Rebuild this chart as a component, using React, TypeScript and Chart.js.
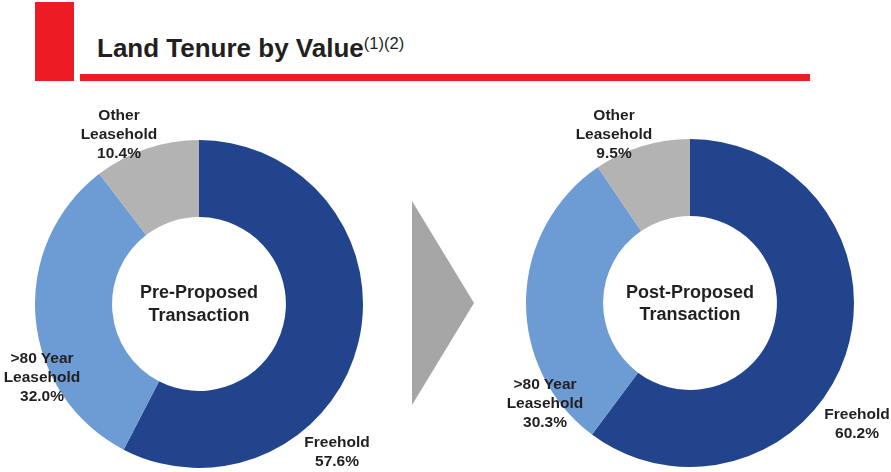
import React, { useEffect, useRef } from "react";
import { Chart, registerables } from "chart.js";

Chart.register(...registerables);

// ---- data ----
const categories = ["Freehold", ">80 Year Leasehold", "Other Leasehold"];
const categoryLines = [["Freehold"], [">80 Year", "Leasehold"], ["Other", "Leasehold"]];
const preValues = [57.6, 32.0, 10.4];
const postValues = [60.2, 30.3, 9.5];
const preTitle = ["Pre-Proposed", "Transaction"];
const postTitle = ["Post-Proposed", "Transaction"];
const chartTitle = "Land Tenure by Value";
const chartTitleNote = "(1)(2)";

// ---- styles ----
const sliceColors = ["#21448D", "#6D9BD3", "#B2B3B2"];
const textColor = "#231F20";
const red = "#ED1C24";
const FONT = "'Liberation Sans', Arial, Helvetica, sans-serif";

// label anchor positions (center x, first baseline) per category
const preLabelPos = [
  { x: 337, y: 447 },
  { x: 42, y: 363 },
  { x: 119, y: 120 },
];
const postLabelPos = [
  { x: 857, y: 419 },
  { x: 545, y: 389 },
  { x: 614, y: 120 },
];

type Pos = { x: number; y: number };

function TextBlock({ lines, pos, size, lh }: { lines: string[]; pos: Pos; size: number; lh: number }) {
  const offset = (lh - 1.117 * size) / 2 + 0.905 * size;
  return (
    <div
      style={{
        position: "absolute",
        left: pos.x - 120,
        width: 240,
        top: pos.y - offset,
        textAlign: "center",
        fontFamily: FONT,
        fontWeight: "bold",
        fontSize: size,
        lineHeight: lh + "px",
        color: textColor,
        whiteSpace: "nowrap",
      }}
    >
      {lines.map((l, i) => (
        <div key={i}>{l}</div>
      ))}
    </div>
  );
}

function Doughnut({ values, left, top, size }: { values: number[]; left: number; top: number; size: number }) {
  const ref = useRef<HTMLCanvasElement | null>(null);
  useEffect(() => {
    if (!ref.current) return;
    const chart = new Chart(ref.current, {
      type: "doughnut",
      data: {
        labels: categories,
        datasets: [
          {
            data: values,
            backgroundColor: sliceColors,
            borderWidth: 0,
          },
        ],
      },
      options: {
        responsive: false,
        animation: false,
        cutout: "53%",
        layout: { padding: 0 },
        plugins: {
          legend: { display: false },
          tooltip: { enabled: false },
        },
        events: [],
      },
    });
    return () => chart.destroy();
  }, [values]);
  return (
    <canvas
      ref={ref}
      width={size}
      height={size}
      style={{ position: "absolute", left, top, width: size, height: size }}
    />
  );
}

const fmt = (v: number) => v.toFixed(1) + "%";

export default function App() {
  const titleSize = 26;
  const titleLh = 29;
  const titleOffset = (titleLh - 1.117 * titleSize) / 2 + 0.905 * titleSize;
  return (
    <div
      style={{
        position: "fixed",
        left: 0,
        top: 0,
        width: 891,
        height: 472,
        background: "#fff",
        overflow: "hidden",
      }}
    >
      {/* header */}
      <div style={{ position: "absolute", left: 35, top: 2, width: 39, height: 79, background: red }} />
      <div style={{ position: "absolute", left: 80, top: 74, width: 730, height: 7, background: red }} />
      <div
        style={{
          position: "absolute",
          left: 97,
          top: 58 - titleOffset,
          fontFamily: FONT,
          fontWeight: "bold",
          fontSize: titleSize,
          lineHeight: titleLh + "px",
          color: textColor,
          whiteSpace: "nowrap",
        }}
      >
        {chartTitle}
        <span style={{ fontWeight: "normal", fontSize: 16.5, position: "relative", top: -8 }}>{chartTitleNote}</span>
      </div>

      {/* charts */}
      <Doughnut values={preValues} left={35} top={140} size={328} />
      <Doughnut values={postValues} left={526} top={139} size={328} />

      {/* arrow */}
      <svg style={{ position: "absolute", left: 0, top: 0 }} width={891} height={472}>
        <polygon points="412,201 474,303 412,405" fill="#A6A6A6" />
      </svg>

      {/* center text */}
      <TextBlock lines={preTitle} pos={{ x: 199, y: 299 }} size={18} lh={23} />
      <TextBlock lines={postTitle} pos={{ x: 690, y: 298 }} size={18} lh={22} />

      {/* slice labels */}
      {categoryLines.map((lines, i) => (
        <TextBlock key={"pre" + i} lines={[...lines, fmt(preValues[i])]} pos={preLabelPos[i]} size={15.5} lh={19} />
      ))}
      {categoryLines.map((lines, i) => (
        <TextBlock key={"post" + i} lines={[...lines, fmt(postValues[i])]} pos={postLabelPos[i]} size={15.5} lh={19} />
      ))}
    </div>
  );
}
